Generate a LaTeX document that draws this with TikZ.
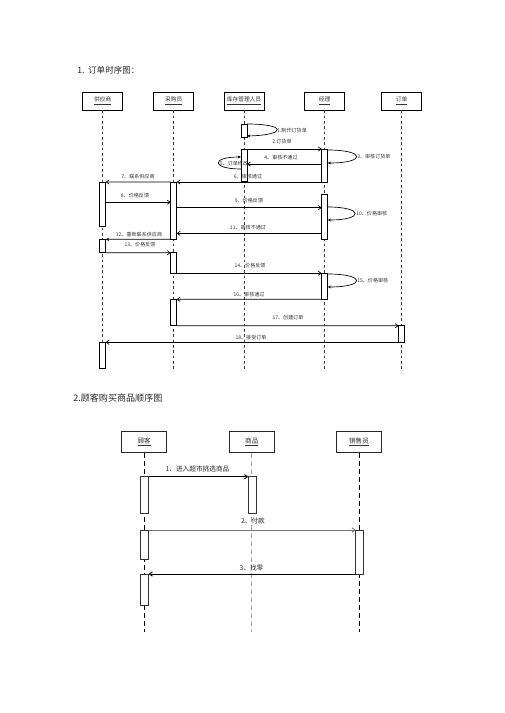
\documentclass[tikz,border=0pt]{standalone}
\usepackage{fontspec}
\setmainfont{Noto Sans CJK SC}
\usetikzlibrary{arrows.meta}
\newcommand{\myact}[5][actbox]{\node[#1, minimum height={(#5-#4)*0.75pt}] (#2) at (#3,{(#4+#5)/2}) {};}
\begin{document}
\begin{tikzpicture}[x=0.75pt,y=-0.75pt,
  head/.style={draw=black, line width=0.6pt, fill=white, minimum width=30pt, minimum height=13.5pt, inner sep=0pt, font=\fontsize{4.3}{5}\selectfont, text=black!80},
  headb/.style={head, minimum width=33.75pt, minimum height=15.75pt, font=\fontsize{5}{6}\selectfont, draw=black!85},
  life/.style={draw=black!75, line width=0.4pt, dash pattern=on 2pt off 2pt},
  lifeb/.style={draw=black, line width=0.7pt, dash pattern=on 3.5pt off 2.5pt},
  lifeg/.style={draw=black!35, line width=0.9pt, dash pattern=on 3.5pt off 2.5pt},
  actbox/.style={draw=black, line width=0.5pt, fill=white, minimum width=4.5pt, inner sep=0pt, outer sep=0pt},
  actb/.style={actbox, minimum width=6pt, draw=black!80},
  msg/.style={draw=black, line width=0.5pt, -{Straight Barb[length=2.2pt,width=3.2pt]}},
  msgf/.style={draw=black, line width=0.5pt, -{Stealth[length=2.5pt,width=2.4pt]}},
  loopm/.style={draw=black, line width=0.5pt, -{Stealth[length=2.5pt,width=2.2pt]}},
  lbl/.style={font=\fontsize{3.8}{4.5}\selectfont, text=black!80, inner sep=0pt},
  lblb/.style={font=\fontsize{5}{6}\selectfont, text=black!85, inner sep=0pt},
  ttl/.style={inner sep=0pt, anchor=west, text=black!85}
]
\useasboundingbox (0,0) rectangle (504,713);

% ---------- diagram 1 ----------
\node[ttl, font=\fontsize{6.4}{7}\selectfont] (t1) at (77,70) {1.\ \ 订单时序图：};

\node[head] (h1) at (102.7,101) {\underline{供应商}};
\node[head] (h2) at (173.7,101) {\underline{采购员}};
\node[head] (h3) at (244,101) {\underline{库存管理人员}};
\node[head] (h4) at (324.5,101) {\underline{经理}};
\node[head] (h5) at (401.7,101) {\underline{订单}};

\foreach \h in {h1,h2,h3,h4,h5}{\draw[life] (\h.south) -- (\h.south |- 0,371);}

\myact{k1}{244}{124}{137}
\myact{k2}{244}{149}{181}
\myact{j1}{324.7}{149}{182}
\myact{s1}{102.7}{182}{226.7}
\myact{p1}{173.7}{182}{239.3}
\myact{j2}{324.7}{194.3}{239.3}
\myact{s2}{102.7}{239.3}{252.7}
\myact{p2}{173.7}{252.7}{273.3}
\myact{j3}{324.7}{273.3}{299.3}
\myact{p3}{173.7}{299.3}{325.7}
\myact{o1}{401.7}{325.7}{342.3}
\myact{s3}{102.7}{342.3}{368.3}

% self loops
\draw[loopm] (k1.north east) .. controls (287,124) and (287,135) .. (k1.east |- 0,136);
\draw[loopm] (j1.east |- 0,150) .. controls (366,150) and (366,163) .. (j1.east |- 0,163);
\draw[loopm] (k2.west |- 0,169) .. controls (211,169) and (211,157) .. (k2.west |- 0,157);
\draw[loopm] (j2.east |- 0,207) .. controls (364,207) and (364,220) .. (j2.east |- 0,220);
\draw[loopm] (j3.east |- 0,274) .. controls (366,274) and (366,287) .. (j3.east |- 0,287);

% messages
\draw[msg] (k2.north east) -- (j1.north west);
\draw[msg] (j1.west |- 0,164) -- (k2.east |- 0,164);
\draw[msg] (j1.south west) -- (p1.north east);
\draw[msg] (p1.north west) -- (s1.north east);
\draw[msg] (s1.east |- 0,202.3) -- (p1.west |- 0,202.3);
\draw[msg] (p1.east |- 0,207.7) -- (j2.west |- 0,207.7);
\draw[msg] (j2.west |- 0,233.3) -- (p1.east |- 0,233.3);
\draw[msgf] (p1.south west) -- (s2.north east);
\draw[msg] (s2.south east) -- (p2.north west);
\draw[msg] (p2.south east) -- (j3.north west);
\draw[msg] (j3.south west) -- (p3.north east);
\draw[msg] (p3.south east) -- (o1.north west);
\draw[msg] (o1.south west) -- (s3.north east);

% labels
\node[lbl, anchor=west] (l1) at (277,131) {1.制作订货单};
\node[lbl, anchor=west] (l2) at (272,141.5) {2.订货单};
\node[lbl, anchor=west] (l3) at (357,156.5) {3、审核订货单};
\node[lbl] (l4) at (281,158) {4、审核不通过};
\node[lbl] (l5) at (234,163.5) {5、订单修改};
\node[lbl] (l6) at (248,176.5) {6、审核通过};
\node[lbl] (l7) at (138,177) {7、联系供应商};
\node[lbl] (l8) at (135,195.5) {8、价格反馈};
\node[lbl] (l9) at (249,200.5) {9、价格反馈};
\node[lbl, anchor=west] (l10) at (356,213.5) {10、价格审核};
\node[lbl] (l11) at (248,228) {11、审核不通过};
\node[lbl] (l12) at (139,235) {12、重新联系供应商};
\node[lbl] (l13) at (140,245) {13、价格反馈};
\node[lbl] (l14) at (250,266) {14、价格反馈};
\node[lbl, anchor=west] (l15) at (357,281) {15、价格审核};
\node[lbl] (l16) at (249,295) {16、审核通过};
\node[lbl] (l17) at (288,318) {17、创建订单};
\node[lbl] (l18) at (251,338) {18、接受订单};

% ---------- diagram 2 ----------
\node[ttl, font=\fontsize{6.8}{8}\selectfont] (t2) at (73,398) {2.顾客购买商品顺序图};

\node[headb] (c0) at (144.2,442) {\underline{顾客}};
\node[headb] (g0) at (251.8,442) {\underline{商品}};
\node[headb] (x0) at (359,442) {\underline{销售员}};

\draw[lifeb] (c0.south) -- (c0.south |- 0,632);
\draw[lifeg] (g0.south) -- (g0.south |- 0,632);
\draw[lifeb] (x0.south) -- (x0.south |- 0,632);

\myact[actb]{c1}{144.7}{476.7}{513.3}
\myact[actb]{g1}{252.2}{476.7}{513.3}
\myact[actb]{c2}{144.7}{530}{559.3}
\myact[actb]{x1}{359.7}{530}{574}
\myact[actb]{c3}{144.7}{574}{605}

\draw[msg, line width=0.7pt] (c1.north east) -- (g1.north west);
\draw[msg, line width=0.7pt, draw=black!55] (c2.north east) -- (x1.north west);
\draw[msg, line width=0.7pt] (x1.south west) -- (c3.north east);

\node[lblb] (n1) at (197.5,469) {1、进入超市挑选商品};
\node[lblb] (n2) at (253,521) {2、付款};
\node[lblb] (n3) at (251.5,568) {3、找零};
\end{tikzpicture}
\end{document}
